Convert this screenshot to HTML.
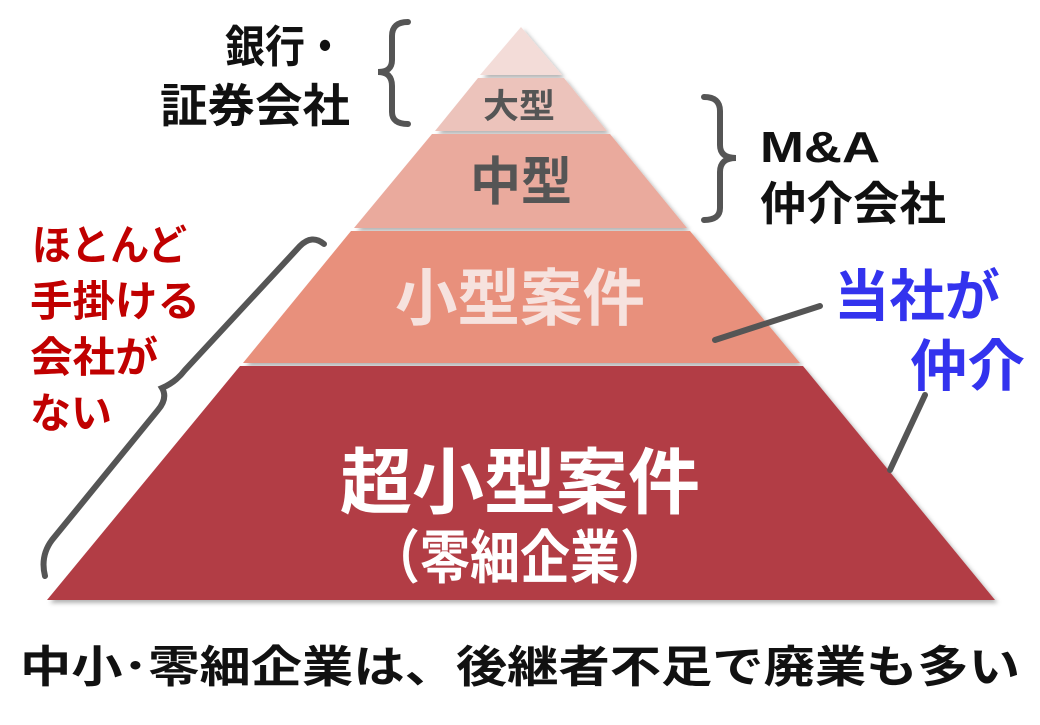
<!DOCTYPE html>
<html><head><meta charset="utf-8"><style>
body{margin:0;background:#fff;}
svg text{font-family:"Liberation Sans","Noto Sans CJK JP",sans-serif;font-weight:bold;}
</style></head><body>
<svg width="1040" height="720" viewBox="0 0 1040 720" xmlns="http://www.w3.org/2000/svg">
<defs><filter id="s" x="-5%" y="-5%" width="110%" height="110%"><feDropShadow dx="3" dy="3" stdDeviation="2" flood-color="#000" flood-opacity="0.3"/></filter></defs>
<g filter="url(#s)">
<polygon points="521,27 480,75 562,75" fill="#f3dcd8"/>
<polygon points="478,78 564,78 607,131 435,131" fill="#ecc3bb"/>
<polygon points="432,134 610,134 687,228 354,228" fill="#eaaa9d"/>
<polygon points="351,231 690,231 800,363 243,363" fill="#e8907c"/>
<polygon points="240,366 803,366 995,600 47,600" fill="#b23d44"/>
</g>
<g fill="none" stroke="#555" stroke-width="6" stroke-linecap="round">
<path d="M408,22 Q392,22 392,36 L392,60 Q392,72 378,72 Q392,72 392,86 L392,112 Q392,124 408,124"/>
<path d="M704,97 Q720,97 720,111 L720,145 Q720,158 736,158 Q720,158 720,172 L720,208 Q720,220 704,220"/>
<path d="M324,244 Q312,234 300,246 L185,370 Q176,382 162,388 Q168,398 158,410 L52,540 Q40,556 45,576"/>
<path d="M715,340 L820,306"/>
<path d="M890,470 L925,395"/>
</g>
<text x="345" y="62" font-size="44" text-anchor="end" fill="#111" textLength="120" lengthAdjust="spacingAndGlyphs">銀行・</text>
<text x="350" y="122" font-size="46" text-anchor="end" fill="#111" textLength="190" lengthAdjust="spacingAndGlyphs">証券会社</text>
<text x="760" y="162" font-size="44" fill="#111" textLength="120" lengthAdjust="spacingAndGlyphs">M&amp;A</text>
<text x="760" y="220" font-size="46" fill="#111" textLength="186" lengthAdjust="spacingAndGlyphs">仲介会社</text>
<text x="32" y="260" font-size="42" fill="#c00000" textLength="155" lengthAdjust="spacingAndGlyphs">ほとんど</text>
<text x="30" y="316" font-size="42" fill="#c00000" textLength="170" lengthAdjust="spacingAndGlyphs">手掛ける</text>
<text x="30" y="372" font-size="42" fill="#c00000" textLength="128" lengthAdjust="spacingAndGlyphs">会社が</text>
<text x="30" y="428" font-size="42" fill="#c00000" textLength="82" lengthAdjust="spacingAndGlyphs">ない</text>
<text x="834" y="316" font-size="56" fill="#3333ee" textLength="166" lengthAdjust="spacingAndGlyphs">当社が</text>
<text x="910" y="386" font-size="56" fill="#3333ee" textLength="115" lengthAdjust="spacingAndGlyphs">仲介</text>
<text x="519" y="118" font-size="34" text-anchor="middle" fill="#555" textLength="72" lengthAdjust="spacingAndGlyphs">大型</text>
<text x="521" y="200" font-size="52" text-anchor="middle" fill="#555" textLength="102" lengthAdjust="spacingAndGlyphs">中型</text>
<text x="520" y="320" font-size="62" text-anchor="middle" fill="#f6e2de" textLength="250" lengthAdjust="spacingAndGlyphs">小型案件</text>
<text x="520" y="508" font-size="72" text-anchor="middle" fill="#fff" textLength="360" lengthAdjust="spacingAndGlyphs">超小型案件</text>
<text x="520" y="578" font-size="58" text-anchor="middle" fill="#fff" textLength="300" lengthAdjust="spacingAndGlyphs">（零細企業）</text>
<text x="520" y="682" font-size="44" text-anchor="middle" fill="#111" textLength="1000" lengthAdjust="spacingAndGlyphs">中小･零細企業は、後継者不足で廃業も多い</text>
</svg>
</body></html>
